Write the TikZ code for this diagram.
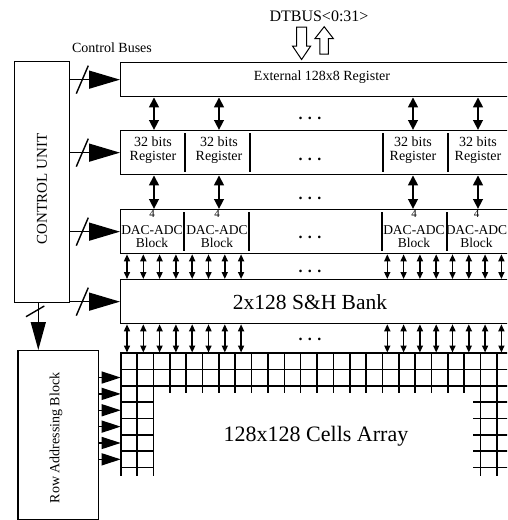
\documentclass[tikz,border=0pt]{standalone}
\usepackage{fontspec}
\setmainfont{Liberation Serif}
\usetikzlibrary{arrows.meta}
\newcommand\fsz[1]{\fontsize{#1}{#1}\selectfont}
\begin{document}
\begin{tikzpicture}[x=1pt,y=-1pt,
  box/.style={draw, line width=1.3pt, inner sep=0pt, anchor=north west},
  lbl/.style={inner sep=0pt, align=center},
  div/.style={line width=1.3pt},
  bigdbl/.style={line width=2.6pt, {Triangle[length=10pt,width=9.5pt]}-{Triangle[length=10pt,width=9.5pt]}},
  smdbl/.style={line width=1.5pt, {Triangle[length=7pt,width=6pt]}-{Triangle[length=7pt,width=6pt]}},
  ctl/.style={line width=1.4pt, -{Triangle[length=31pt,width=18pt]}},
  ctldown/.style={line width=1.4pt, -{Triangle[length=28pt,width=15pt]}},
  rowarr/.style={line width=1.3pt, -{Triangle[length=19pt,width=12pt]}},
  slash/.style={line width=1.4pt},
  gridln/.style={line width=1.6pt, line cap=rect},
  hollow/.style={line width=1pt, fill=white, line join=miter},
  dots/.style={inner sep=0pt, font={\fsz{16}\bfseries}}
]
\useasboundingbox (0,0) rectangle (507,520);
\clip (0,0) rectangle (507,520);

% main blocks
\node[box, minimum width=55pt, minimum height=241pt] (cu) at (14,61) {};
\node[box, minimum width=392pt, minimum height=34pt] (ext) at (120,62) {};
\node[box, minimum width=392pt, minimum height=44pt] (reg) at (120,130) {};
\node[box, minimum width=392pt, minimum height=44pt] (dac) at (120,209) {};
\node[box, minimum width=392pt, minimum height=44pt] (sh) at (120,279) {};
\node[box, minimum width=80.4pt, minimum height=169pt] (rab) at (17.3,350) {};

% dividers
\foreach \x in {185,250,383,448} \draw[div] (\x,133) -- (\x,172);
\foreach \x in {184,249,382,447} \draw[div] (\x,212) -- (\x,251);

% texts
\node[lbl] (dtbus) at (319,16) {\fsz{16}DTBUS<0:31>};
\node[lbl] (cbus) at (112,48) {\fsz{14}Control Buses};
\node[lbl] (extt) at (322,77) {\fsz{14}External 128x8 Register};
\node[lbl, rotate=90] (cut) at (42,189) {\fsz{15}CONTROL UNIT};
\node[lbl, rotate=90] (rabt) at (56,438) {\fsz{14}Row Addressing Block};
\node[lbl] (sht) at (310,302) {\fsz{21.5}2x128 S\&H Bank};
\node[lbl] (cat) at (316,436) {\fsz{22}128x128 Cells Array};

\foreach \x/\n in {153/a,219/b,413/c,478/d} {
  \node[lbl, font={\fsz{14}}] (reg\n) at (\x,150.5) {32 bits\\Register};
}
\foreach \x/\n in {152/a,217/b,414/c,476.5/d} {
  \node[lbl, font={\fsz{11}}] (four\n) at (\x,213.5) {4};
  \node[lbl, font={\fsz{13.5}}] (dact\n) at (\x,236.5) {DAC-ADC\\Block};
}
\foreach \y/\n in {118/a,159/b,198/c,237/d,271/e,339/f}
  \node[dots] (dot\n) at (310,\y) {. . .};

% DTBUS hollow arrows
\draw[hollow] (296.5,27) -- (306.5,27) -- (306.5,46) -- (310.7,46) -- (301.6,59.5)
  -- (292.5,46) -- (296.5,46) -- cycle;
\draw[hollow] (319.8,54) -- (328.4,54) -- (328.4,38.5) -- (333.3,38.5) -- (324.2,26.7)
  -- (315,38.5) -- (319.8,38.5) -- cycle;

% control buses
\foreach \n in {ext,reg,dac,sh} {
  \draw[ctl] (cu.east |- \n.west) -- (\n.west);
  \draw[slash] (cu.east |- \n.west) ++(6,14) -- ++(12,-28);
}
\coordinate (cd) at (38.3,0);
\draw[ctldown] (cu.south -| cd) -- (rab.north -| cd);
\draw[slash] (26,316.7) -- (44.3,306);

% big double arrows
\foreach \x in {154,219,413,478} {
  \coordinate (t) at (\x,0);
  \draw[bigdbl] (ext.south -| t) -- (reg.north -| t);
  \draw[bigdbl] (reg.south -| t) -- (dac.north -| t);
}

% small double arrows
\coordinate (gtop) at (0,352.5);
\foreach \i in {0,...,7} {
  \coordinate (t) at ({127+16.3*\i},0);
  \draw[smdbl] (dac.south -| t) -- (sh.north -| t);
  \draw[smdbl] (sh.south -| t) -- (t |- gtop);
  \coordinate (t) at ({387.3+16.3*\i},0);
  \draw[smdbl] (dac.south -| t) -- (sh.north -| t);
  \draw[smdbl] (sh.south -| t) -- (t |- gtop);
}

% cells grid
\foreach \j in {0,1,2}
  \draw[gridln] (120.7,{353+\j*16.36}) -- (512,{353+\j*16.36});
\foreach \i in {0,...,23}
  \draw[gridln] ({120.7+\i*16.36},353) -- ({120.7+\i*16.36},392.5);
\foreach \i in {0,1,2,22,23}
  \draw[gridln] ({120.7+\i*16.36},353) -- ({120.7+\i*16.36},475);
\foreach \j in {3,...,7} {
  \draw[gridln] (120.7,{353+\j*16.36}) -- (152.4,{353+\j*16.36});
  \draw[gridln] (473.5,{353+\j*16.36}) -- (512,{353+\j*16.36});
}

% row addressing arrows
\foreach \j in {1,...,6} {
  \coordinate (r\j) at (120.7,{353+(\j+0.5)*16.36});
  \draw[rowarr] (rab.east |- r\j) -- (r\j);
}
\end{tikzpicture}
\end{document}
